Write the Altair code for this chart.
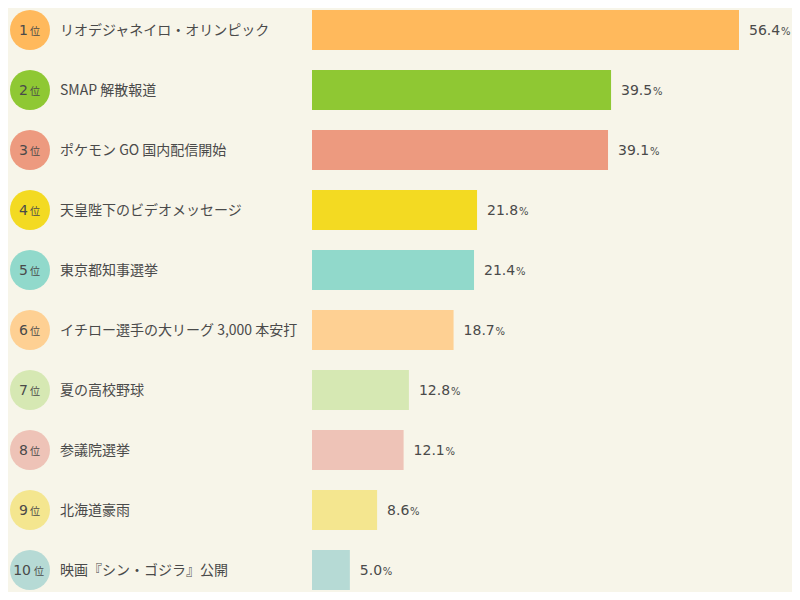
import altair as alt
import pandas as pd

# Ranking data
ranks = [1, 2, 3, 4, 5, 6, 7, 8, 9, 10]
topics = [
    'リオデジャネイロ・オリンピック',
    'SMAP 解散報道',
    'ポケモン GO 国内配信開始',
    '天皇陛下のビデオメッセージ',
    '東京都知事選挙',
    'イチロー選手の大リーグ 3,000 本安打',
    '夏の高校野球',
    '参議院選挙',
    '北海道豪雨',
    '映画『シン・ゴジラ』公開',
]
values = [56.4, 39.5, 39.1, 21.8, 21.4, 18.7, 12.8, 12.1, 8.6, 5.0]
colors = ['#ffb95c', '#8fc833', '#ed9a7f', '#f3da22', '#91d9cb',
          '#fed093', '#d6e8b3', '#eec3b7', '#f4e68f', '#b6dad5']

df = pd.DataFrame({'rank': ranks, 'topic': topics, 'value': values, 'color': colors})
df['value_label'] = df['value'].map(lambda v: f'{v:.1f}')

FONT = 'Noto Sans CJK JP'
NUM_FONT = 'DejaVu Sans'
TEXT = '#4a4a4a'

x_scale = alt.Scale(domain=[0, 56.4], range=[304, 731])
y_scale = alt.Scale(domain=[1, 10], range=[22, 562])

base = alt.Chart(df).transform_calculate(
    lo='datum.rank - 1/3',
    hi='datum.rank + 1/3',
    zero='0'
)

bars = base.mark_rect().encode(
    x=alt.X('zero:Q', scale=x_scale, axis=None),
    x2='value:Q',
    y=alt.Y('lo:Q', scale=y_scale, axis=None),
    y2='hi:Q',
    color=alt.Color('color:N', scale=None),
)

# circle of 40px diameter (Vega symbol size = diameter squared)
circles = base.mark_circle(size=1600, opacity=1).encode(
    x=alt.value(22),
    y=alt.Y('rank:Q', scale=y_scale, axis=None),
    color=alt.Color('color:N', scale=None),
)

rank_num = base.mark_text(align='right', baseline='middle', font=NUM_FONT,
                          fontSize=14, color=TEXT, dy=1).encode(
    x=alt.value(20),
    y=alt.Y('rank:Q', scale=y_scale, axis=None),
    text='rank:N',
).transform_filter('datum.rank < 10')

rank_num10 = base.mark_text(align='right', baseline='middle', font=NUM_FONT,
                            fontSize=14, color=TEXT, dy=1).encode(
    x=alt.value(23),
    y=alt.Y('rank:Q', scale=y_scale, axis=None),
    text='rank:N',
).transform_filter('datum.rank >= 10')

rank_suffix = base.mark_text(align='left', baseline='middle', font=FONT,
                             fontSize=10, color=TEXT, dy=2).encode(
    x=alt.value(22),
    y=alt.Y('rank:Q', scale=y_scale, axis=None),
    text=alt.value('位'),
).transform_filter('datum.rank < 10')

rank_suffix10 = base.mark_text(align='left', baseline='middle', font=FONT,
                               fontSize=10, color=TEXT, dy=2).encode(
    x=alt.value(26),
    y=alt.Y('rank:Q', scale=y_scale, axis=None),
    text=alt.value('位'),
).transform_filter('datum.rank >= 10')

labels = base.mark_text(align='left', baseline='middle', font=FONT,
                        fontSize=14, color=TEXT, dy=1).encode(
    x=alt.value(52),
    y=alt.Y('rank:Q', scale=y_scale, axis=None),
    text='topic:N',
)

value_text = base.mark_text(align='left', baseline='middle', font=NUM_FONT,
                            fontSize=14, color=TEXT, dx=10, dy=1).encode(
    x=alt.X('value:Q', scale=x_scale, axis=None),
    y=alt.Y('rank:Q', scale=y_scale, axis=None),
    text='value_label:N',
)

pct_wide = base.mark_text(align='left', baseline='middle', font=NUM_FONT,
                          fontSize=10, color=TEXT, dx=42, dy=2).encode(
    x=alt.X('value:Q', scale=x_scale, axis=None),
    y=alt.Y('rank:Q', scale=y_scale, axis=None),
    text=alt.value('%'),
).transform_filter('datum.value >= 10')

pct_narrow = base.mark_text(align='left', baseline='middle', font=NUM_FONT,
                            fontSize=10, color=TEXT, dx=33, dy=2).encode(
    x=alt.X('value:Q', scale=x_scale, axis=None),
    y=alt.Y('rank:Q', scale=y_scale, axis=None),
    text=alt.value('%'),
).transform_filter('datum.value < 10')

chart = alt.layer(
    bars, circles, rank_num, rank_num10, rank_suffix, rank_suffix10,
    labels, value_text, pct_wide, pct_narrow
).properties(
    width=784,
    height=584,
    autosize=alt.AutoSizeParams(type='none'),
    padding=0,
    background='#f7f5e9',
).configure_view(
    stroke=None
)

chart.save("out.html", embed_options={"renderer": "svg", "actions": False})
